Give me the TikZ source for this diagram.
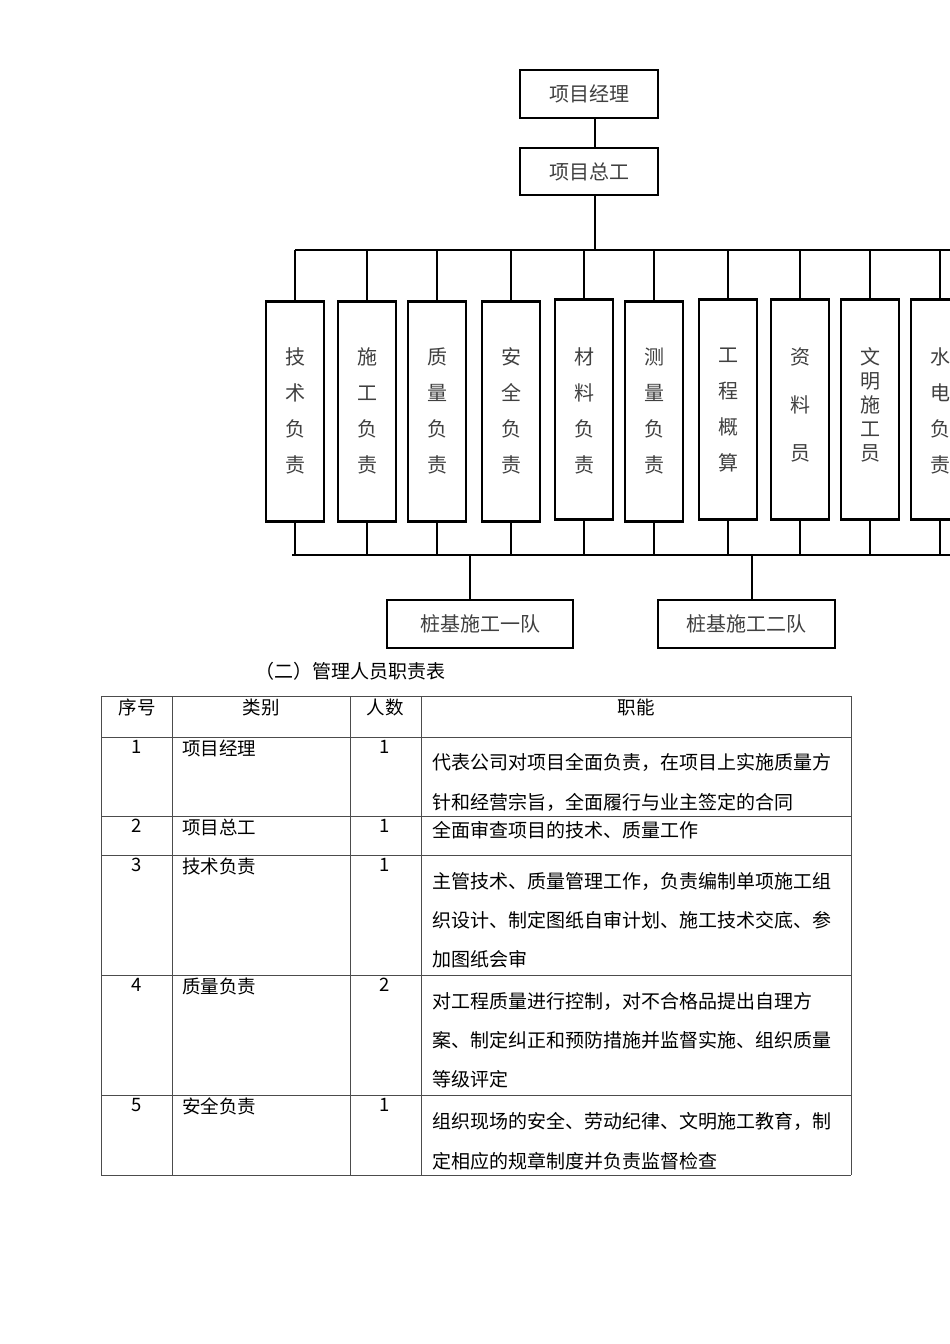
\documentclass[tikz,border=0pt]{standalone}
\usepackage{fontspec}
\setmainfont{Noto Sans CJK SC}
\begin{document}
\begin{tikzpicture}[x=1pt,y=1pt,
  obox/.style={draw,line width=2.6pt,inner sep=0pt,font=\fontsize{20}{20}\selectfont,text=black!75},
  vbox/.style={draw,line width=2.6pt,inner sep=0pt,font=\fontsize{20}{20}\selectfont,text=black!75,minimum width=58pt,align=center},
  conn/.style={line width=2.4pt},
  tline/.style={line width=0.5pt,black!70},
  tt/.style={anchor=north,inner sep=0pt,font=\fontsize{18.5}{18.5}\selectfont},
  tl/.style={anchor=west,inner sep=0pt,font=\fontsize{19}{19}\selectfont}]
\useasboundingbox (0,0) rectangle (950,-1344);
\fill[white] (0,0) rectangle (950,-1344);
% top boxes
\node[obox,minimum width=138pt,minimum height=48pt] (pm) at (589,-94) {项目经理};
\node[obox,minimum width=138pt,minimum height=47pt] (ce) at (589,-171.5) {项目总工};
\draw[conn] (pm.south -| 595,0) -- (ce.north -| 595,0);
\coordinate (bt) at (595,-250);
\draw[conn] (ce.south -| 595,0) -- (bt);
\draw[conn] (295,-250) -- (960,-250);
% vertical boxes
\foreach \n/\cx/\top/\bot/\txt in {
 a/295/300/520/{技\\[16pt]术\\[16pt]负\\[16pt]责},
 b/367/300/520/{施\\[16pt]工\\[16pt]负\\[16pt]责},
 c/437/300/520/{质\\[16pt]量\\[16pt]负\\[16pt]责},
 d/511/300/520/{安\\[16pt]全\\[16pt]负\\[16pt]责},
 e/584/298/518/{材\\[16pt]料\\[16pt]负\\[16pt]责},
 f/654/300/520/{测\\[16pt]量\\[16pt]负\\[16pt]责},
 g/728/298/518/{工\\[16pt]程\\[16pt]概\\[16pt]算},
 h/800/298/518/{资\\[28pt]料\\[28pt]员},
 i/870/298/518/{文\\[4pt]明\\[4pt]施\\[4pt]工\\[4pt]员},
 j/940/298/518/{水\\[16pt]电\\[16pt]负\\[16pt]责}}{
  \node[vbox,minimum height={\bot-\top},anchor=north] (\n) at (\cx,-\top) {};
  \node[font=\fontsize{20}{20}\selectfont,text=black!75,align=center,anchor=north] at (\cx,-344) {\txt};
  \draw[conn] (\n.north) -- (\cx,-250);
  \draw[conn] (\n.south) -- (\cx,-555);
}
\draw[conn] (292,-555) -- (960,-555);
% teams
\node[obox,minimum width=186pt,minimum height=48pt] (t1) at (480,-624) {桩基施工一队};
\node[obox,minimum width=177pt,minimum height=48pt] (t2) at (746.5,-624) {桩基施工二队};
\coordinate (j1) at (470,-555); \coordinate (j2) at (752,-555);
\draw[conn] (j1) -- (t1.north -| j1);
\draw[conn] (j2) -- (t2.north -| j2);
% title
\node[anchor=west,inner sep=0pt,font=\fontsize{19}{19}\selectfont] (title) at (255,-671) {（二）管理人员职责表};
% table
\foreach \x in {101,172,350,421,851}{\draw[tline] (\x,-696) -- (\x,-1175);}
\foreach \y in {696,737,816,855,975,1095,1175}{\draw[tline] (101,-\y) -- (851,-\y);}
\node[tt] (h1) at (137,-699) {序号};
\node[tt] (h2) at (261,-699) {类别};
\node[tt] (h3) at (385,-699) {人数};
\node[tt] (h4) at (636,-699) {职能};
\foreach \y/\n/\c/\k in {740/1/项目经理/1,819/2/项目总工/1,858/3/技术负责/1,978/4/质量负责/2,1098/5/安全负责/1}{
  \node[tt] at (137,-\y) {\n};
  \node[tt,anchor=north west] at (182,-\y) {\c};
  \node[tt] at (385,-\y) {\k};
}
\node[tl] at (432,-762) {代表公司对项目全面负责，在项目上实施质量方};
\node[tl] at (432,-802) {针和经营宗旨，全面履行与业主签定的合同};
\node[tl] at (432,-830) {全面审查项目的技术、质量工作};
\node[tl] at (432,-881) {主管技术、质量管理工作，负责编制单项施工组};
\node[tl] at (432,-920) {织设计、制定图纸自审计划、施工技术交底、参};
\node[tl] at (432,-959) {加图纸会审};
\node[tl] at (432,-1001) {对工程质量进行控制，对不合格品提出自理方};
\node[tl] at (432,-1040) {案、制定纠正和预防措施并监督实施、组织质量};
\node[tl] at (432,-1079) {等级评定};
\node[tl] at (432,-1121) {组织现场的安全、劳动纪律、文明施工教育，制};
\node[tl] at (432,-1161) {定相应的规章制度并负责监督检查};
\end{tikzpicture}
\end{document}
